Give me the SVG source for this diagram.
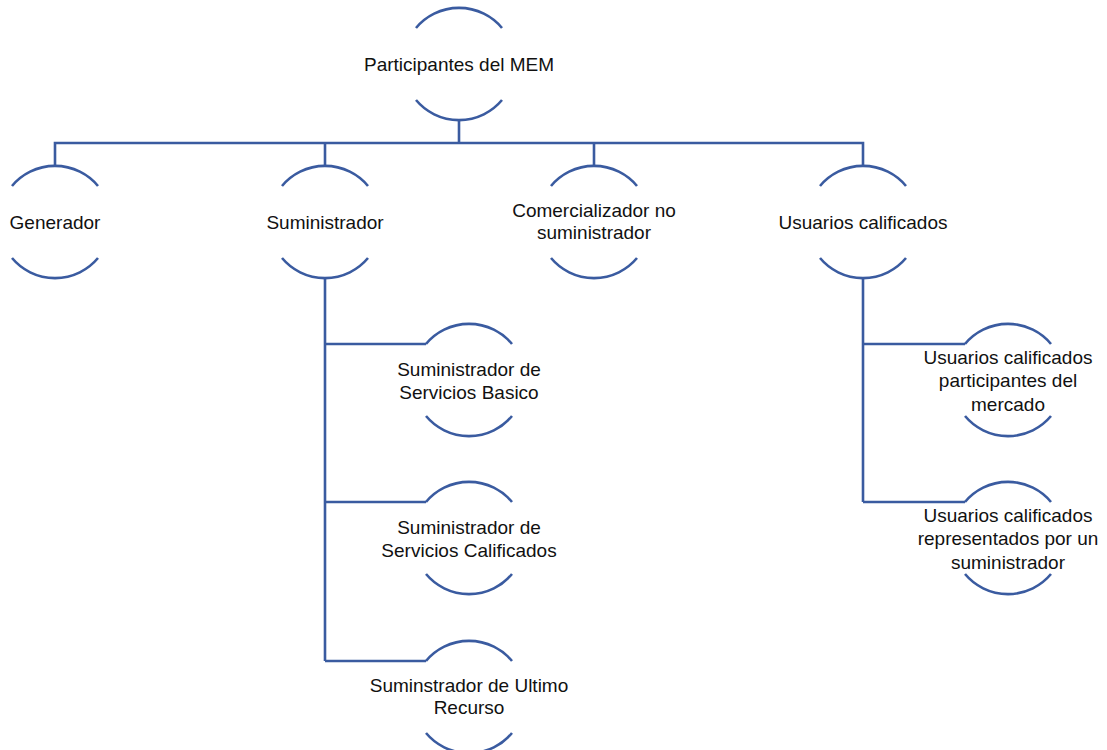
<svg xmlns="http://www.w3.org/2000/svg" xmlns:xlink="http://www.w3.org/1999/xlink" width="1107" height="750" viewBox="0 0 1107 750">
  <style>
    .ring, .link { fill: none; stroke: #3A5BA0; stroke-width: 2.6; }
    .label { font-family: "Liberation Sans", Arial, sans-serif; font-size: 19px; fill: #111; text-anchor: middle; }
  </style>
  <defs>
    <!-- node outline: an upper and a lower arc of the same circle -->
    <path id="ring" class="ring" d="M-43,-36 A56,56 0 0 1 43,-36 M-43,36 A56,56 0 0 0 43,36"/>
  </defs>
  <rect width="1107" height="750" fill="#fff"/>

  <g id="connectors" class="link">
    <path d="M459,119 V143"/>
    <path d="M55,166 V143 H863 V166"/>
    <path d="M325,143 V166"/>
    <path d="M594,143 V166"/>
    <path d="M325,278 V661"/>
    <path d="M325,344 H426"/>
    <path d="M325,502 H426"/>
    <path d="M325,661 H426"/>
    <path d="M863,278 V502"/>
    <path d="M863,344 H965"/>
    <path d="M863,502 H965"/>
  </g>

  <g id="participantes">
    <use xlink:href="#ring" x="459" y="64"/>
    <text class="label" x="459" y="70.5">Participantes del MEM</text>
  </g>
  <g id="generador">
    <use xlink:href="#ring" x="55" y="222"/>
    <text class="label" x="55" y="228.5">Generador</text>
  </g>
  <g id="suministrador">
    <use xlink:href="#ring" x="325" y="222"/>
    <text class="label" x="325" y="228.5">Suministrador</text>
  </g>
  <g id="comercializador">
    <use xlink:href="#ring" x="594" y="222"/>
    <text class="label" x="594" y="217">Comercializador no</text>
    <text class="label" x="594" y="239">suministrador</text>
  </g>
  <g id="usuarios">
    <use xlink:href="#ring" x="863" y="222"/>
    <text class="label" x="863" y="228.5">Usuarios calificados</text>
  </g>
  <g id="ssb">
    <use xlink:href="#ring" x="469" y="380"/>
    <text class="label" x="469" y="375.5">Suministrador de</text>
    <text class="label" x="469" y="398.5">Servicios Basico</text>
  </g>
  <g id="ssc">
    <use xlink:href="#ring" x="469" y="538"/>
    <text class="label" x="469" y="533.5">Suministrador de</text>
    <text class="label" x="469" y="556.5">Servicios Calificados</text>
  </g>
  <g id="sur">
    <use xlink:href="#ring" x="469" y="697"/>
    <text class="label" x="469" y="691.5">Suminstrador de Ultimo</text>
    <text class="label" x="469" y="714">Recurso</text>
  </g>
  <g id="ucpm">
    <use xlink:href="#ring" x="1008" y="380"/>
    <text class="label" x="1008" y="363.5">Usuarios calificados</text>
    <text class="label" x="1008" y="387">participantes del</text>
    <text class="label" x="1008" y="410.5">mercado</text>
  </g>
  <g id="ucrs">
    <use xlink:href="#ring" x="1008" y="538"/>
    <text class="label" x="1008" y="521.5">Usuarios calificados</text>
    <text class="label" x="1008" y="545">representados por un</text>
    <text class="label" x="1008" y="568.5">suministrador</text>
  </g>
</svg>
